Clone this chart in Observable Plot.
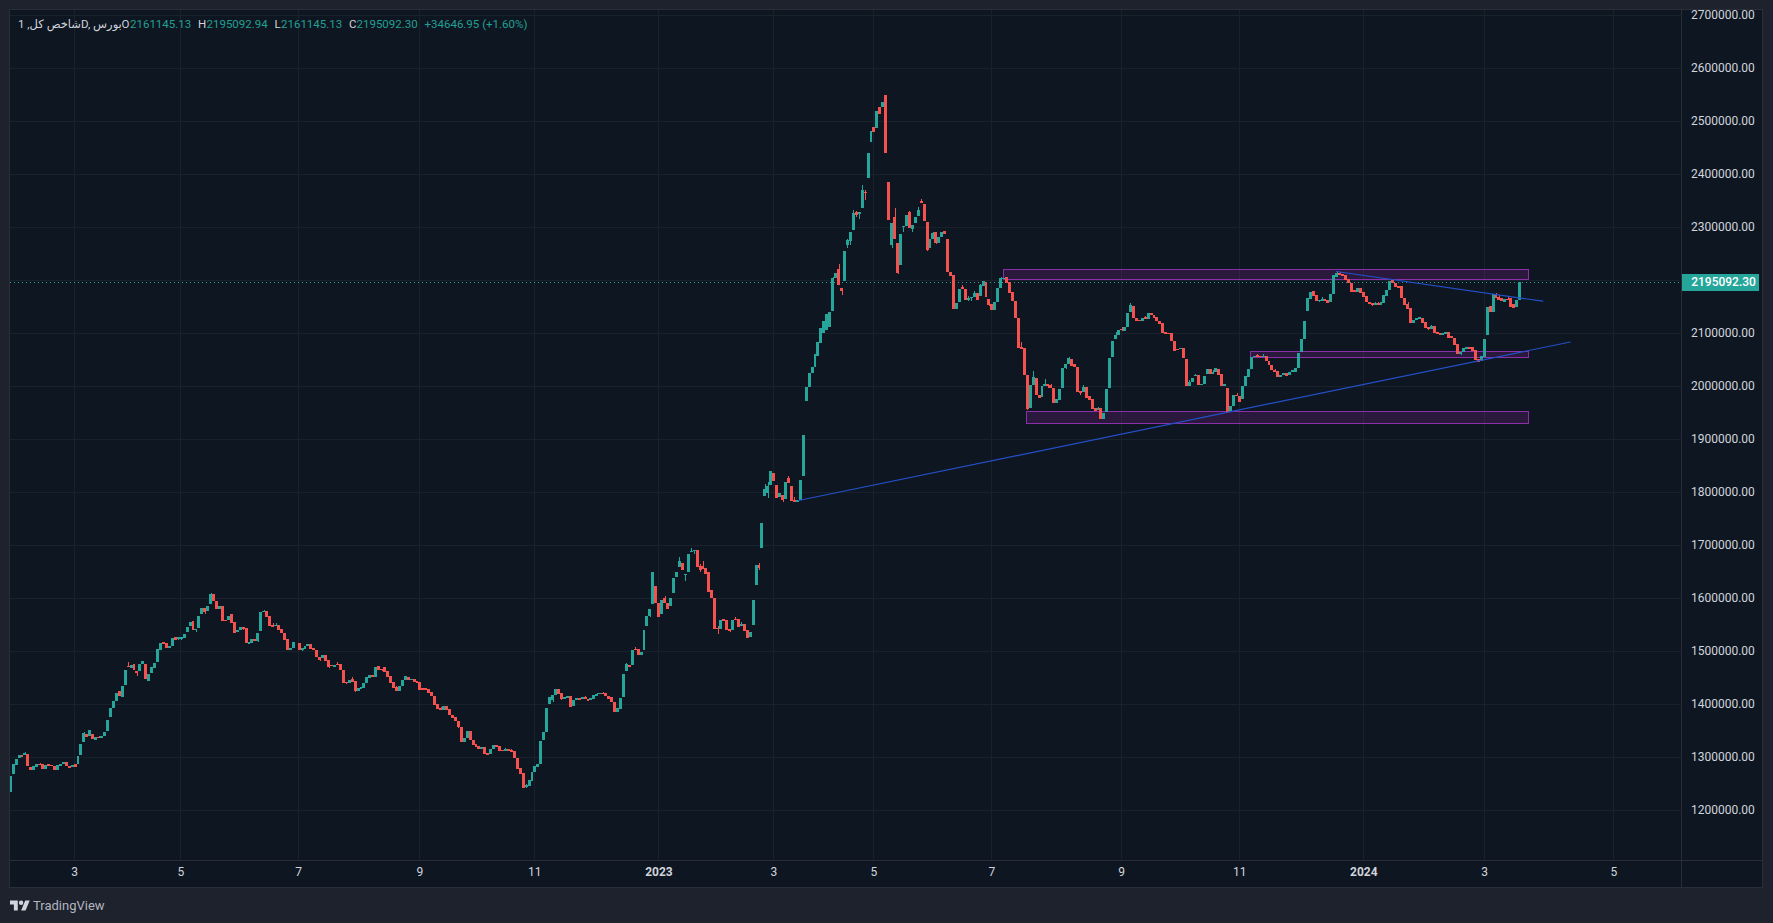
<!DOCTYPE html>
<html><head><meta charset="utf-8">
<script src="https://cdn.jsdelivr.net/npm/d3@7"></script>
<script src="https://cdn.jsdelivr.net/npm/@observablehq/plot@0.6"></script>
<style>
html,body{margin:0;padding:0;background:#1e222d;overflow:hidden}
#page{position:relative;width:1773px;height:923px;font-family:Roboto,"DejaVu Sans",sans-serif}
#pane{position:absolute;left:10px;top:10px;width:1752px;height:877px;background:#0e1621;box-shadow:0 0 0 1px #2a2e39}
#axisV{position:absolute;left:1681px;top:10px;width:1px;height:878px;background:#2a2e39}
#axisH{position:absolute;left:10px;top:860px;width:1752px;height:1px;background:#2a2e39}
#chart{position:absolute;left:0;top:0}
.h{position:absolute;top:17px;font-size:11.5px;line-height:14px;white-space:nowrap}
.w{color:#d1d4dc}.g{color:#22a093}
#tv{position:absolute;left:10px;top:897px;height:16px;display:flex;align-items:center;color:#b2b5be;font-size:13px}
</style></head><body>
<div id="page">
<div id="pane"></div><div id="axisV"></div><div id="axisH"></div>
<div id="chart"></div>
<div class="h w" style="left:18px" dir="ltr">1 ,شاخص کلD, بورس</div>
<div class="h w" style="left:121.5px">O</div><div class="h g" style="left:130px">2161145.13</div>
<div class="h w" style="left:198px">H</div><div class="h g" style="left:206.5px">2195092.94</div>
<div class="h w" style="left:274.5px">L</div><div class="h g" style="left:281px">2161145.13</div>
<div class="h w" style="left:349px">C</div><div class="h g" style="left:356.5px">2195092.30</div>
<div class="h g" style="left:424.5px">+34646.95 (+1.60%)</div>
<div id="tv"><svg width="20" height="11" viewBox="0 4 36 18" style="margin-right:3px"><path fill="#d1d4dc" d="M14 22H7V11H0V4h14v18zM28 22h-8l7.5-18h8L28 22z"/><circle cx="20" cy="8" r="4" fill="#d1d4dc"/></svg>TradingView</div>
</div>
<script>
// Prices in thousands, one entry per daily bar
const opens = [
1233,1267,1284,1297,1303,1303,1304,1280,1274,1280,
1286,1286,1276,1286,1284,1282,1274,1282,1286,1289,
1282,1280,1286,1286,1303,1327,1342,1338,1342,1331,
1336,1335,1338,1348,1374,1391,1404,1423,1412,1435,
1470,1467,1474,1461,1461,1474,1474,1442,1457,1467,
1478,1501,1516,1514,1504,1508,1525,1521,1521,1523,
1535,1546,1555,1538,1542,1569,1580,1574,1587,1606,
1593,1578,1584,1557,1557,1569,1553,1535,1538,1544,
1542,1512,1514,1521,1518,1536,1572,1574,1565,1548,
1546,1548,1540,1533,1521,1501,1504,1514,1514,1501,
1503,1508,1512,1504,1501,1487,1486,1491,1482,1472,
1469,1474,1474,1463,1440,1438,1446,1442,1423,1427,
1429,1438,1448,1453,1450,1470,1465,1469,1461,1452,
1440,1431,1423,1433,1444,1450,1445,1446,1442,1440,
1429,1429,1427,1421,1414,1399,1391,1387,1395,1389,
1378,1374,1367,1355,1327,1335,1348,1331,1323,1319,
1314,1318,1306,1304,1314,1321,1319,1312,1310,1314,
1312,1310,1297,1278,1269,1242,1244,1253,1270,1280,
1286,1331,1346,1399,1406,1416,1427,1419,1408,1410,
1414,1395,1406,1410,1408,1412,1408,1406,1408,1414,
1418,1420,1420,1414,1412,1403,1384,1389,1412,1461,
1472,1472,1503,1503,1491,1501,1546,1565,1587,1621,
1589,1569,1599,1589,1584,1608,1638,1657,1665,1642,
1648,1686,1687,1689,1659,1659,1655,1648,1614,1599,
1542,1540,1559,1557,1540,1538,1559,1559,1546,1550,
1538,1525,1548,1623,1661,1693,1791,1797,1812,1835,
1812,1789,1793,1786,1825,1810,1784,1780,1784,1829,
1970,1998,2023,2034,2055,2080,2100,2105,2110,2140,
2203,2219,2184,2197,2265,2272,2293,2327,2323,2335,
2365,2391,2459,2487,2486,2525,2525,2548,2384,2265,
2318,2269,2227,2299,2301,2327,2295,2306,2319,2348,
2342,2308,2259,2276,2289,2269,2280,2291,2276,2214,
2208,2144,2157,2186,2182,2161,2165,2167,2174,2169,
2187,2195,2163,2153,2142,2157,2184,2201,2204,2195,
2176,2159,2127,2073,2071,2020,1958,2001,2014,1982,
1978,1999,2003,2001,1995,1967,1973,1995,2033,2041,
2050,2041,2035,1990,1988,1997,1980,1974,1958,1954,
1958,1937,1950,1995,2054,2088,2095,2107,2103,2110,
2139,2150,2127,2124,2122,2129,2125,2137,2133,2129,
2122,2118,2101,2099,2099,2084,2069,2069,2071,2050,
1999,2007,2018,2020,2001,2003,2022,2031,2022,2025,
2031,2022,1999,1995,1950,1961,1982,1980,1974,1999,
2016,2031,2054,2058,2056,2054,2056,2046,2039,2029,
2027,2016,2020,2024,2020,2025,2025,2033,2063,2088,
2141,2163,2178,2171,2159,2159,2163,2161,2158,2173,
2205,2212,2210,2209,2201,2193,2180,2176,2184,2176,
2169,2158,2156,2152,2156,2152,2156,2169,2180,2199,
2193,2188,2188,2165,2154,2146,2118,2124,2125,2127,
2120,2110,2107,2112,2101,2099,2095,2097,2101,2093,
2090,2078,2059,2063,2069,2073,2073,2067,2050,2046,
2054,2095,2150,2139,2173,2167,2165,2158,2163,2165,
2154,2148,2161.145];
const closes = [
1263,1286,1295,1303,1299,1306,1282,1274,1282,1286,
1284,1276,1284,1282,1282,1274,1284,1286,1289,1282,
1278,1284,1280,1301,1323,1344,1336,1350,1333,1336,
1335,1338,1346,1369,1391,1404,1420,1414,1433,1463,
1469,1472,1463,1458,1474,1480,1446,1455,1468,1476,
1503,1514,1512,1504,1508,1523,1519,1525,1525,1531,
1544,1553,1538,1540,1565,1580,1572,1584,1606,1593,
1578,1584,1555,1555,1565,1552,1533,1538,1544,1540,
1514,1516,1521,1518,1533,1572,1574,1563,1546,1544,
1548,1538,1533,1520,1501,1504,1516,1515,1501,1504,
1508,1512,1503,1501,1487,1482,1491,1480,1469,1470,
1472,1472,1463,1438,1438,1444,1440,1423,1429,1431,
1438,1450,1453,1450,1469,1463,1463,1459,1450,1438,
1429,1423,1433,1444,1452,1444,1446,1440,1438,1425,
1425,1425,1419,1414,1397,1389,1387,1395,1387,1378,
1372,1367,1355,1327,1335,1348,1331,1321,1318,1314,
1318,1304,1303,1314,1321,1318,1310,1310,1314,1310,
1308,1297,1276,1267,1240,1246,1255,1270,1282,1286,
1329,1346,1391,1412,1416,1427,1418,1408,1412,1414,
1393,1406,1410,1406,1412,1408,1404,1410,1416,1418,
1420,1418,1414,1408,1403,1384,1391,1410,1455,1474,
1469,1501,1501,1491,1497,1538,1565,1578,1648,1589,
1563,1595,1589,1578,1599,1636,1648,1669,1652,1644,
1682,1687,1689,1657,1652,1653,1644,1610,1599,1540,
1540,1557,1555,1538,1536,1557,1557,1544,1550,1536,
1523,1535,1595,1661,1655,1740,1804,1810,1838,1820,
1787,1797,1784,1818,1816,1782,1780,1784,1821,1906,
1998,2023,2035,2060,2083,2108,2122,2135,2138,2203,
2212,2189,2178,2253,2274,2289,2325,2321,2327,2369,
2363,2438,2480,2478,2518,2512,2535,2438,2312,2306,
2276,2212,2286,2301,2321,2297,2303,2318,2331,2344,
2310,2255,2276,2287,2269,2280,2289,2286,2214,2206,
2144,2155,2182,2182,2161,2165,2167,2174,2161,2189,
2197,2167,2152,2142,2157,2184,2203,2203,2193,2174,
2159,2127,2071,2069,2020,1956,2001,2016,1982,1976,
1999,2003,1999,1995,1967,1974,1993,2033,2041,2052,
2037,2035,1988,1986,1997,1976,1973,1956,1952,1958,
1937,1948,1993,2052,2084,2095,2105,2105,2110,2137,
2152,2127,2122,2122,2127,2125,2137,2133,2127,2122,
2116,2099,2097,2097,2084,2065,2067,2071,2052,1999,
2007,2014,2020,2001,2003,2018,2031,2022,2025,2033,
2020,1999,2003,1950,1961,1982,1980,1969,1999,2018,
2031,2054,2056,2054,2054,2056,2046,2039,2029,2025,
2016,2020,2024,2018,2025,2029,2033,2061,2088,2122,
2165,2176,2169,2159,2161,2163,2159,2156,2173,2209,
2212,2209,2207,2199,2193,2176,2176,2184,2174,2167,
2158,2154,2152,2156,2152,2158,2171,2180,2197,2193,
2186,2184,2165,2152,2144,2118,2124,2127,2129,2118,
2108,2107,2112,2099,2097,2095,2099,2101,2090,2090,
2076,2059,2063,2071,2073,2069,2065,2048,2044,2056,
2088,2148,2139,2173,2165,2161,2159,2163,2161,2148,
2146,2161,2195.092];
// Visible wicks: bar number and the extreme it reaches
const highWickBars = [5,10,25,30,40,68,86,89,90,111,116,131,146,160,168,170,175,195,199,201,209,212,222,227,231,234,235,240,246,248,254,256,257,264,266,279,281,284,286,287,289,290,300,305,308,309,313,323,325,327,329,336,343,347,351,353,359,364,369,375,377,380,385,400,402,408,416,423,425,429,445,450,451,463,464,474,482,504,505,508];
const highWickValues = [1308,1287,1346,1338,1478,1608,1576,1551,1552,1478,1450,1433,1393,1318,1316,1314,1248,1414,1420,1421,1476,1506,1603,1676,1693,1664,1669,1546,1563,1553,1665,1814,1818,1829,1789,2205,2229,2276,2331,2329,2378,2369,2335,2329,2336,2352,2289,2190,2169,2178,2191,2205,2082,2027,2012,2003,2054,2001,1960,2101,2110,2156,2131,2011,2022,2029,1986,2060,2060,2031,2167,2216,2214,2158,2158,2158,2114,2175,2171,2169];
const lowWickBars = [43,57,58,63,66,79,84,99,105,108,114,117,126,152,175,184,187,217,229,232,234,240,244,254,257,262,282,284,285,287,288,290,299,301,303,306,311,314,325,326,332,345,352,358,363,377,444,462,481,492];
const lowWickValues = [1452,1519,1520,1535,1569,1538,1516,1499,1480,1467,1436,1421,1461,1353,1241,1402,1406,1563,1631,1682,1648,1531,1534,1652,1788,1780,2170,2259,2266,2317,2314,2350,2259,2210,2289,2289,2253,2267,2159,2160,2150,1954,1995,2031,1983,2103,2158,2150,2105,2058];

const priceTicks = [1200000,1300000,1400000,1500000,1600000,1700000,1800000,1900000,2000000,2100000,2200000,2300000,2400000,2500000,2600000,2700000];
const timeTicks = [21.7,57.7,97.7,138.8,177.8,219.9,258.9,292.8,332.8,376.8,416.9,459,500,543.8];
const timeLabels = ["3","5","7","9","11","2023","3","5","7","9","11","2024","3","5"];
const lastPrice = 2195092.30;

// Drawn zones: first bar, last bar, top and bottom price
const zoneBars1 = [336.9,420.7,344.7];
const zoneBars2 = [515.1,515.1,515.1];
const zoneTops = [2219000,2064500,1951000];
const zoneBottoms = [2200000,2052500,1928000];
// Trend lines
const riseBars = [267.2,529];
const risePrices = [1784000,2083000];
const fallBars = [449.7,519.7];
const fallPrices = [2216000,2160000];

const UP = "#26a69a", DOWN = "#f4514f", GRID = "#19212b", TEXT = "#d1d4dc";
const barStep = 2.948, firstBarX = 10.2;
const xMin = (10 - firstBarX) / barStep, xMax = (1681.5 - firstBarX) / barStep;
const tagEnd = (1758.7 - firstBarX) / barStep, tagText = (1690.7 - firstBarX) / barStep;

const bars = opens.map((o, i) => ({i, open: o * 1000, close: closes[i] * 1000, up: closes[i] >= o}));
const wick = (list, vals, edge) => list.map((b, k) => ({
  i: b, from: edge(bars[b].open, bars[b].close), to: vals[k] * 1000, up: bars[b].up}));
const wicks = [...wick(highWickBars, highWickValues, Math.max), ...wick(lowWickBars, lowWickValues, Math.min)];
const zones = zoneBars1.map((a, k) => ({a, b: zoneBars2[k], t: zoneTops[k], m: zoneBottoms[k]}));
const rise = riseBars.map((x, k) => ({x, y: risePrices[k]}));
const fall = fallBars.map((x, k) => ({x, y: fallPrices[k]}));
const label = d => timeLabels[timeTicks.indexOf(d)];
const isYear = d => label(d).length === 4;

const chart = Plot.plot({
  width: 1773, height: 923,
  marginLeft: 10, marginRight: 91.5, marginTop: 10, marginBottom: 63,
  style: {background: "transparent", fontFamily: "Roboto, 'DejaVu Sans', sans-serif", fontSize: "12px", color: TEXT},
  x: {type: "linear", domain: [xMin, xMax], axis: null},
  y: {type: "linear", domain: [1104717, 2708491], axis: null},
  marks: [
    Plot.gridX(timeTicks, {stroke: GRID, strokeOpacity: 1, shapeRendering: "crispEdges"}),
    Plot.gridY(priceTicks, {stroke: GRID, strokeOpacity: 1, shapeRendering: "crispEdges"}),
    Plot.axisY(priceTicks, {anchor: "right", tickSize: 0, tickPadding: 9, tickFormat: d => d.toFixed(2), color: TEXT, fontSize: 12}),
    Plot.axisX(timeTicks.filter(d => !isYear(d)), {anchor: "bottom", tickSize: 0, tickPadding: 7, tickFormat: label, color: TEXT, fontSize: 12, label: null}),
    Plot.axisX(timeTicks.filter(isYear), {anchor: "bottom", tickSize: 0, tickPadding: 7, tickFormat: label, color: TEXT, fontSize: 12, fontWeight: "bold", label: null}),
    Plot.ruleY([lastPrice], {stroke: UP, strokeDasharray: "1,3", strokeWidth: 1, shapeRendering: "crispEdges"}),
    Plot.rect(zones, {x1: "a", x2: "b", y1: "m", y2: "t", fill: "#9c27b0", fillOpacity: 0.2, stroke: "#8a2fa8", strokeWidth: 1, shapeRendering: "crispEdges"}),
    Plot.ruleX(wicks.filter(d => d.up), {x: "i", y1: "from", y2: "to", stroke: UP, strokeWidth: 1, shapeRendering: "crispEdges", clip: true}),
    Plot.ruleX(wicks.filter(d => !d.up), {x: "i", y1: "from", y2: "to", stroke: DOWN, strokeWidth: 1, shapeRendering: "crispEdges", clip: true}),
    Plot.rect(bars.filter(d => d.up), {x1: d => d.i - 0.5, x2: d => d.i + 0.5, y1: "open", y2: "close", fill: UP, shapeRendering: "crispEdges", clip: true}),
    Plot.rect(bars.filter(d => !d.up), {x1: d => d.i - 0.5, x2: d => d.i + 0.5, y1: "open", y2: "close", fill: DOWN, shapeRendering: "crispEdges", clip: true}),
    Plot.line(rise, {x: "x", y: "y", stroke: "#2450c8", strokeWidth: 1.2}),
    Plot.line(fall, {x: "x", y: "y", stroke: "#2450c8", strokeWidth: 1.2}),
    Plot.rect([lastPrice], {x1: xMax, x2: tagEnd, y1: d => d - 16000, y2: d => d + 16000, fill: UP, shapeRendering: "crispEdges"}),
    Plot.text([lastPrice], {x: tagText, y: d => d, text: d => d.toFixed(2), textAnchor: "start", fill: "#ffffff", fontSize: 12, fontWeight: 500})
  ]
});
document.getElementById("chart").append(chart);
</script>
</body></html>
